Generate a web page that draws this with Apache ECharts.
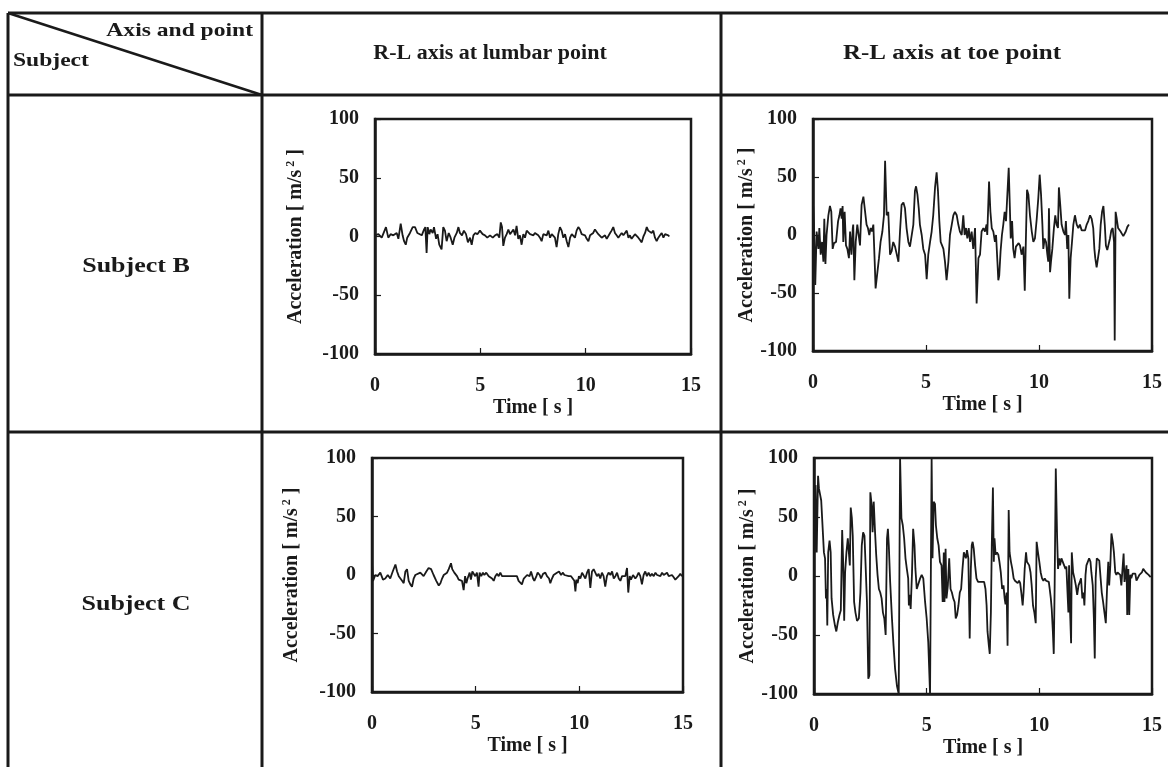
<!DOCTYPE html>
<html><head><meta charset="utf-8">
<script src="https://cdn.jsdelivr.net/npm/echarts@6/dist/echarts.min.js"></script>
<style>html,body{margin:0;padding:0;background:#fff}#c{width:1168px;height:767px}</style>
</head><body><div id="c"></div>
<script>
// ---------- data ----------
const columnHeaders = ['R-L axis at lumbar point', 'R-L axis at toe point'];
const rowHeaders = ['Subject B', 'Subject C'];
const cornerTop = 'Axis and point';
const cornerBottom = 'Subject';
const timeTicks = [0, 5, 10, 15];
const accelTicks = [-100, -50, 0, 50, 100];

// Subject B, lumbar point  [time s, acceleration m/s^2]
const lumbarB = [[0,1],[0.16,2],[0.32,-1],[0.52,8],[0.63,-1],[0.74,2],[0.87,1],[1.03,3],[1.11,-2],[1.22,11],[1.31,1],[1.38,-4],[1.46,-7],[1.53,-1],[1.66,3],[1.79,8],[1.90,8],[2.01,3],[2.10,2],[2.22,1],[2.33,6],[2.39,8],[2.45,-14],[2.50,8],[2.58,2],[2.64,6],[2.74,3],[2.80,8],[2.90,-2],[2.97,2],[3.05,-7],[3.16,-11],[3.24,8],[3.32,5],[3.40,-4],[3.50,3],[3.59,-1],[3.69,-7],[3.77,-1],[3.88,3],[3.96,8],[4.03,3],[4.13,1],[4.22,5],[4.32,2],[4.41,-5],[4.51,-1],[4.59,-7],[4.67,1],[4.76,3],[4.86,2],[4.98,5],[5.11,2],[5.22,1],[5.33,-1],[5.46,1],[5.59,-1],[5.70,1],[5.81,2],[5.90,-1],[5.97,12],[6.03,8],[6.09,-8],[6.17,-1],[6.25,2],[6.33,6],[6.41,2],[6.49,3],[6.57,6],[6.65,1],[6.72,9],[6.80,-2],[6.88,1],[6.96,-7],[7.04,2],[7.12,-1],[7.20,5],[7.28,6],[7.36,2],[7.44,3],[7.52,1],[7.59,3],[7.67,3],[7.75,1],[7.83,-1],[7.91,-4],[7.99,2],[8.07,3],[8.15,1],[8.23,5],[8.31,-1],[8.39,2],[8.47,3],[8.54,-1],[8.62,-9],[8.70,2],[8.78,8],[8.86,5],[8.94,-1],[9.02,2],[9.10,-4],[9.18,-9],[9.26,-1],[9.34,2],[9.41,3],[9.49,-1],[9.57,5],[9.65,8],[9.73,6],[9.81,2],[9.89,3],[9.97,1],[10.05,-2],[10.13,-4],[10.21,1],[10.28,2],[10.36,3],[10.44,6],[10.52,5],[10.60,2],[10.68,1],[10.76,-1],[10.84,-1],[10.92,1],[11.00,-2],[11.08,-1],[11.16,3],[11.23,5],[11.31,8],[11.39,3],[11.47,1],[11.55,-1],[11.63,1],[11.71,3],[11.79,1],[11.87,2],[11.95,5],[12.03,-1],[12.10,1],[12.18,-2],[12.26,-1],[12.34,2],[12.42,1],[12.50,-1],[12.58,-3],[12.66,-5],[12.74,0],[12.82,3],[12.90,8],[12.97,5],[13.05,6],[13.13,3],[13.21,5],[13.29,-1],[13.37,-4],[13.45,-1],[13.53,1],[13.61,3],[13.69,-1],[13.77,2],[13.84,3],[13.92,1],[13.97,0]];

// Subject B, toe point
const toeB = [[0,28],[0.04,10],[0.10,-43],[0.16,3],[0.24,-12],[0.28,6],[0.34,-17],[0.40,-6],[0.46,-23],[0.50,14],[0.55,-25],[0.60,0],[0.68,17],[0.75,25],[0.81,20],[0.87,-12],[0.93,-7],[1.02,-6],[1.11,12],[1.17,17],[1.22,23],[1.27,14],[1.31,25],[1.34,-6],[1.40,20],[1.46,-9],[1.52,-12],[1.59,-20],[1.64,3],[1.70,-17],[1.76,6],[1.78,9],[1.83,-39],[1.89,-6],[1.96,9],[2.02,0],[2.08,-9],[2.15,26],[2.23,33],[2.30,32],[2.37,9],[2.43,6],[2.49,0],[2.55,6],[2.61,3],[2.67,9],[2.73,-23],[2.77,-46],[2.85,-32],[2.92,-20],[2.99,-6],[3.07,3],[3.14,17],[3.19,64],[3.26,17],[3.33,20],[3.41,-17],[3.48,-14],[3.55,-6],[3.63,-10],[3.70,-9],[3.78,-23],[3.85,3],[3.92,26],[4.00,28],[4.07,23],[4.14,6],[4.22,-6],[4.29,-10],[4.37,-9],[4.44,9],[4.51,38],[4.56,42],[4.62,35],[4.68,23],[4.73,9],[4.81,0],[4.88,-12],[4.96,-17],[5.03,-38],[5.10,-17],[5.18,-6],[5.25,3],[5.32,17],[5.40,41],[5.47,54],[5.53,38],[5.59,12],[5.65,-6],[5.71,-9],[5.77,-12],[5.84,-23],[5.91,-39],[5.99,-23],[6.06,0],[6.14,9],[6.21,17],[6.28,20],[6.36,17],[6.43,9],[6.50,3],[6.58,0],[6.65,17],[6.71,0],[6.77,6],[6.83,-3],[6.89,6],[6.95,-6],[7.02,3],[7.09,-12],[7.17,6],[7.24,-59],[7.32,-20],[7.39,-17],[7.46,3],[7.54,6],[7.61,3],[7.68,9],[7.71,0],[7.79,46],[7.85,20],[7.91,6],[7.98,3],[8.05,-6],[8.10,0],[8.16,-23],[8.20,-39],[8.24,-35],[8.30,-14],[8.36,0],[8.42,9],[8.48,20],[8.54,12],[8.60,35],[8.66,58],[8.70,59],[8.75,-3],[8.81,12],[8.86,-12],[8.92,-20],[8.98,-10],[9.04,-9],[9.10,-7],[9.16,-9],[9.23,-17],[9.31,-10],[9.37,-48],[9.41,-12],[9.47,39],[9.53,35],[9.60,17],[9.68,3],[9.75,-6],[9.82,-3],[9.90,14],[9.97,32],[10.03,52],[10.09,35],[10.15,9],[10.19,-12],[10.25,-3],[10.31,-6],[10.37,-17],[10.41,-23],[10.44,23],[10.49,-32],[10.53,-23],[10.59,-12],[10.66,6],[10.72,17],[10.78,9],[10.84,6],[10.88,41],[10.94,26],[11.00,9],[11.08,3],[11.15,0],[11.19,12],[11.25,-12],[11.30,0],[11.34,-55],[11.40,-20],[11.46,-6],[11.52,9],[11.59,17],[11.67,9],[11.74,6],[11.81,9],[11.89,4],[11.96,3],[12.04,4],[12.11,9],[12.18,12],[12.26,17],[12.33,14],[12.40,6],[12.45,-12],[12.49,-20],[12.55,-28],[12.61,-20],[12.67,-12],[12.73,9],[12.79,20],[12.85,25],[12.91,9],[12.96,-9],[13.02,-13],[13.08,-12],[13.14,-3],[13.20,4],[13.26,6],[13.32,-6],[13.35,-91],[13.39,20],[13.44,14],[13.50,6],[13.55,6],[13.61,3],[13.67,1],[13.73,-1],[13.79,-2],[13.84,3],[13.91,7],[13.98,9]];

// Subject C, lumbar point
const lumbarC = [[0,10],[0.05,-5],[0.16,0],[0.27,-1],[0.40,2],[0.53,-4],[0.64,-3],[0.76,0],[0.88,-3],[1.00,3],[1.13,9],[1.21,3],[1.29,-1],[1.37,-3],[1.45,-5],[1.53,-7],[1.61,3],[1.69,5],[1.77,-5],[1.85,-8],[1.93,-10],[2.01,-3],[2.09,0],[2.17,-1],[2.33,2],[2.49,-1],[2.62,3],[2.73,6],[2.85,5],[2.97,0],[3.10,-5],[3.22,-9],[3.30,-7],[3.38,-3],[3.46,0],[3.54,-1],[3.62,2],[3.70,5],[3.81,10],[3.87,5],[3.97,2],[4.10,-1],[4.18,-4],[4.26,-3],[4.34,-5],[4.42,-13],[4.49,-1],[4.55,-7],[4.61,-3],[4.71,2],[4.77,-4],[4.84,3],[4.90,2],[4.98,-1],[5.06,2],[5.14,-10],[5.19,2],[5.27,-1],[5.35,2],[5.42,0],[5.51,2],[5.63,-1],[5.71,0],[5.79,-3],[5.87,-5],[5.95,-1],[6.03,1],[6.11,-1],[6.19,2],[6.27,-1],[6.35,0],[6.51,-1],[6.67,-1],[6.83,-1],[6.99,-1],[7.07,-5],[7.15,-4],[7.23,-8],[7.32,-3],[7.40,-3],[7.48,0],[7.60,-1],[7.67,3],[7.77,-3],[7.83,-5],[7.93,-1],[7.99,2],[8.09,0],[8.15,-3],[8.25,1],[8.36,2],[8.44,-1],[8.54,-3],[8.60,-7],[8.68,-3],[8.76,0],[8.84,-1],[8.92,2],[9.02,3],[9.12,0],[9.21,2],[9.28,0],[9.37,-1],[9.49,-1],[9.60,-1],[9.69,-2],[9.76,-5],[9.81,-14],[9.86,-4],[9.92,-7],[9.98,-1],[10.05,-3],[10.13,2],[10.21,3],[10.29,-3],[10.37,2],[10.45,5],[10.53,-11],[10.61,3],[10.69,5],[10.77,2],[10.85,-1],[10.93,1],[11.01,-3],[11.09,2],[11.17,-1],[11.25,-10],[11.33,-1],[11.41,2],[11.50,0],[11.58,3],[11.66,-3],[11.74,-1],[11.82,2],[11.90,-3],[11.98,-5],[12.06,-1],[12.14,0],[12.22,-1],[12.30,6],[12.36,-15],[12.43,-1],[12.49,-4],[12.59,0],[12.70,-3],[12.78,-1],[12.86,2],[12.94,-1],[13.02,-8],[13.10,0],[13.18,3],[13.26,-1],[13.34,2],[13.42,-1],[13.50,1],[13.59,-1],[13.67,2],[13.75,0],[13.83,-1],[13.91,-1],[13.99,2],[14.07,0],[14.15,-1],[14.23,2],[14.31,-1],[14.39,-1],[14.47,0],[14.55,-2],[14.63,-4],[14.71,-5],[14.79,-1],[14.87,1],[14.95,-1]];

// Subject C, toe point
const toeC = [[0,80],[0.03,20],[0.07,77],[0.12,20],[0.18,85],[0.22,74],[0.26,73],[0.32,64],[0.38,63],[0.44,20],[0.49,15],[0.53,-19],[0.56,-11],[0.59,-42],[0.63,20],[0.69,30],[0.74,20],[0.78,-19],[0.85,-33],[0.93,-42],[0.99,-47],[1.06,-39],[1.13,-33],[1.19,-29],[1.25,39],[1.29,15],[1.34,-38],[1.38,3],[1.44,20],[1.50,32],[1.54,33],[1.59,9],[1.63,58],[1.68,49],[1.72,34],[1.78,-22],[1.84,-31],[1.91,-38],[1.99,-36],[2.06,-14],[2.12,26],[2.18,37],[2.24,34],[2.29,9],[2.35,-22],[2.41,-87],[2.46,-84],[2.50,71],[2.56,60],[2.60,37],[2.65,63],[2.71,37],[2.76,18],[2.82,1],[2.88,-11],[2.94,-14],[3.00,-19],[3.06,-31],[3.12,-36],[3.18,-50],[3.24,32],[3.28,40],[3.32,26],[3.38,-5],[3.46,-36],[3.53,-59],[3.60,-79],[3.68,-93],[3.76,-100],[3.82,100],[3.88,49],[3.94,43],[4.00,32],[4.06,15],[4.12,6],[4.18,-2],[4.21,-25],[4.25,-16],[4.29,-28],[4.35,3],[4.40,40],[4.46,26],[4.50,6],[4.56,-11],[4.63,-11],[4.71,-2],[4.78,1],[4.85,-2],[4.93,-22],[5.00,-36],[5.07,-56],[5.15,-100],[5.22,100],[5.26,15],[5.31,63],[5.37,61],[5.41,43],[5.47,32],[5.53,26],[5.59,12],[5.66,9],[5.71,-22],[5.76,20],[5.79,-22],[5.84,23],[5.88,-19],[5.94,-8],[6.00,15],[6.06,-11],[6.12,-14],[6.18,-19],[6.24,-22],[6.29,-36],[6.35,-33],[6.41,-25],[6.47,-14],[6.53,-11],[6.59,6],[6.65,20],[6.69,19],[6.74,15],[6.79,22],[6.85,15],[6.91,-53],[6.96,6],[7.00,26],[7.04,29],[7.09,23],[7.15,9],[7.21,-2],[7.28,-5],[7.40,-5],[7.48,-4],[7.55,-5],[7.61,-11],[7.66,-25],[7.70,-47],[7.76,-59],[7.80,-66],[7.85,-31],[7.89,26],[7.94,75],[7.98,12],[8.01,32],[8.06,18],[8.12,20],[8.18,18],[8.23,12],[8.29,3],[8.35,-11],[8.41,-8],[8.46,-19],[8.50,-24],[8.55,-14],[8.59,-59],[8.64,56],[8.68,20],[8.74,12],[8.80,6],[8.86,-2],[8.92,-4],[8.98,-4],[9.04,-6],[9.10,-4],[9.15,-6],[9.20,-14],[9.26,-25],[9.30,-14],[9.35,6],[9.41,20],[9.45,12],[9.50,11],[9.55,9],[9.61,3],[9.66,-8],[9.72,-25],[9.78,-31],[9.84,-40],[9.88,29],[9.94,20],[10.00,12],[10.06,3],[10.12,-2],[10.18,-4],[10.24,-2],[10.30,-4],[10.36,-5],[10.42,-5],[10.46,-11],[10.51,-19],[10.55,-28],[10.60,-47],[10.64,-66],[10.68,-8],[10.73,91],[10.79,32],[10.83,6],[10.88,15],[10.92,9],[10.98,15],[11.04,12],[11.10,9],[11.16,6],[11.20,8],[11.25,-14],[11.29,-31],[11.32,9],[11.36,-28],[11.41,-57],[11.44,20],[11.50,3],[11.56,-2],[11.62,-8],[11.68,-16],[11.74,-8],[11.80,-5],[11.85,-2],[11.91,-19],[11.96,-14],[12.00,-25],[12.05,1],[12.09,9],[12.15,12],[12.21,15],[12.27,12],[12.31,3],[12.37,-8],[12.42,-36],[12.46,-70],[12.50,-2],[12.55,15],[12.61,16],[12.66,13],[12.72,-2],[12.77,-14],[12.83,-22],[12.89,-31],[12.95,-40],[13.01,-8],[13.06,12],[13.10,-8],[13.15,9],[13.20,36],[13.26,29],[13.31,20],[13.37,3],[13.42,1],[13.47,3],[13.53,2],[13.59,1],[13.64,-8],[13.68,3],[13.74,19],[13.78,-5],[13.83,3],[13.87,9],[13.90,-33],[13.95,6],[13.99,-33],[14.04,1],[14.08,-2],[14.14,2],[14.20,3],[14.26,2],[14.31,-4],[14.38,-4],[14.44,1],[14.50,2],[14.55,3],[14.61,6],[14.67,5],[14.73,3],[14.79,2],[14.85,1],[14.94,-1]];

// ---------- chart ----------
const FONT = '"Liberation Serif", "Times New Roman", serif';
const INK = '#1a1a1a';
const panels = [lumbarB, toeB, lumbarC, toeC];
const grids = [
  {left: 375, top: 119, width: 316, height: 235},
  {left: 813, top: 119, width: 339, height: 232},
  {left: 372, top: 458, width: 311, height: 234},
  {left: 814, top: 458, width: 338, height: 236}
];
const yNameGap = [68, 44, 69, 44];

const txt = {fontFamily: FONT, fontWeight: 'bold', fontSize: 20, color: INK};

const option = {
  backgroundColor: '#fff',
  animation: false,
  grid: grids.map(g => Object.assign({show: true, borderColor: INK, borderWidth: 2.5, backgroundColor: 'transparent'}, g)),
  xAxis: grids.map((g, i) => ({
    gridIndex: i, type: 'value',
    min: timeTicks[0], max: timeTicks[timeTicks.length - 1], interval: timeTicks[1] - timeTicks[0],
    axisLine: {show: true, onZero: false, lineStyle: {color: INK, width: 2.5}},
    axisTick: {show: true, inside: true, length: 6, lineStyle: {color: INK, width: 1.2}},
    splitLine: {show: false},
    axisLabel: Object.assign({margin: 22}, txt),
    name: 'Time [ s ]', nameLocation: 'middle', nameGap: 44,
    nameTextStyle: Object.assign({}, txt)
  })),
  yAxis: grids.map((g, i) => ({
    gridIndex: i, type: 'value',
    min: accelTicks[0], max: accelTicks[accelTicks.length - 1], interval: accelTicks[1] - accelTicks[0],
    axisLine: {show: true, onZero: false, lineStyle: {color: INK, width: 2.5}},
    axisTick: {show: true, inside: true, length: 6, lineStyle: {color: INK, width: 1.2}},
    splitLine: {show: false},
    axisLabel: Object.assign({margin: 16}, txt),
    name: 'Acceleration [ m/s{sup|2} ]', nameLocation: 'middle', nameRotate: 90, nameGap: yNameGap[i],
    nameTextStyle: Object.assign({
      rich: {sup: {fontFamily: FONT, fontWeight: 'bold', fontSize: 12, color: INK, verticalAlign: 'top', padding: [0, 0, 10, 3]}}
    }, txt)
  })),
  series: panels.map((d, i) => ({
    type: 'line', xAxisIndex: i, yAxisIndex: i, data: d,
    showSymbol: false, clip: true,
    lineStyle: {color: INK, width: 1.8}
  })),
  graphic: []
};

const L = (x1, y1, x2, y2, w) => ({type: 'line', silent: true, shape: {x1, y1, x2, y2}, style: {stroke: INK, lineWidth: w || 3}});
const T = (text, x, y, align, sx, size) => ({
  type: 'text', silent: true, x, y, scaleX: sx,
  style: {text, fontFamily: FONT, fontWeight: 'bold', fontSize: size || 20, fill: INK,
          align, verticalAlign: 'middle', textAlign: align, textVerticalAlign: 'middle'}
});
option.graphic = [
  L(8, 13, 1168, 13), L(8, 13, 8, 767), L(262, 13, 262, 767), L(721, 13, 721, 767),
  L(8, 95, 1168, 95), L(8, 432, 1168, 432), L(8, 13, 262, 95, 2.5),
  T(cornerTop, 253, 31, 'right', 1.24, 19),
  T(cornerBottom, 13, 61, 'left', 1.24, 19),
  T(columnHeaders[0], 490, 54, 'center', 1.1, 20),
  T(columnHeaders[1], 952, 54, 'center', 1.25, 20),
  T(rowHeaders[0], 136, 267, 'center', 1.3, 20),
  T(rowHeaders[1], 136, 605, 'center', 1.3, 20)
];

const chart = echarts.init(document.getElementById('c'), null, {renderer: 'canvas'});
chart.setOption(option);
</script></body></html>
